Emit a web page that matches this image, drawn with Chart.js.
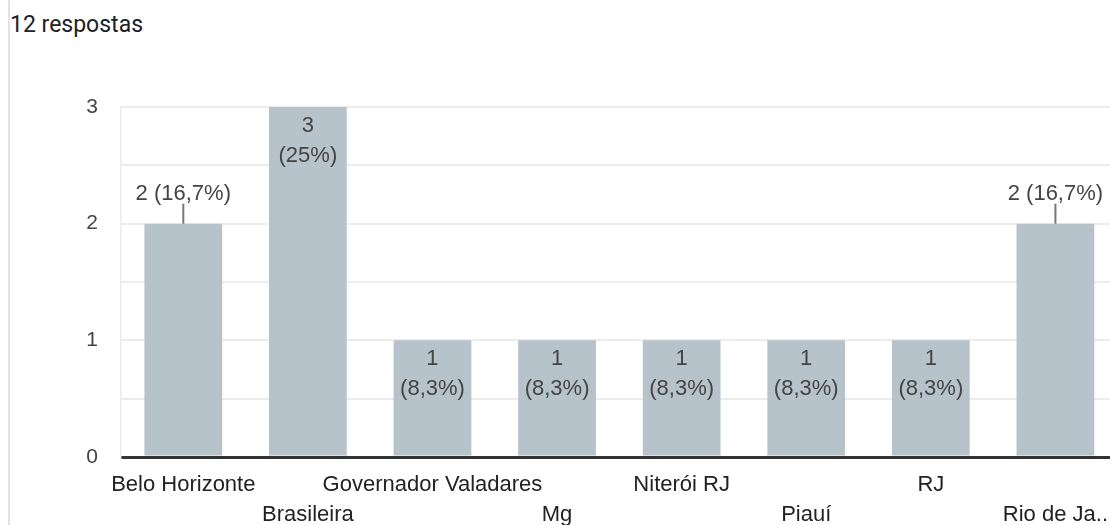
<!DOCTYPE html>
<html>
<head>
<meta charset="utf-8">
<script src="https://cdn.jsdelivr.net/npm/chart.js@4"></script>
<style>
  html, body { margin: 0; padding: 0; background: #fff; overflow: hidden; }
  #wrap { position: relative; width: 1110px; height: 525px; overflow: hidden; }
  #edge { position: absolute; left: 8px; top: 0; width: 2px; height: 525px; background: #e2e2e2; }
  #title { position: absolute; left: 10px; top: 11px; font: 23px Roboto, "Noto Sans", sans-serif; color: #202124; }
  #myChart { position: absolute; left: 0; top: 0; }
</style>
</head>
<body>
<div id="wrap">
  <div id="edge"></div>
  <div id="title">12 respostas</div>
  <canvas id="myChart" width="1121" height="525" style="width:1121px;height:525px"></canvas>
</div>
<script>
var labels = [
  "Belo Horizonte",
  "Brasileira",
  "Governador Valadares",
  "Mg",
  "Niterói RJ",
  "Piauí",
  "RJ",
  "Rio de Ja..",
];
var counts = [2, 3, 1, 1, 1, 1, 1, 2];
var yTicks = [0, 1, 2, 3];
var totalAnswers = 12;

// bars whose annotation sits above the bar with a small stem
var stemmed = [0, 7];

var BAR = "#b6c3cb";
var TEXT = "#444444";

function pctText(v) {
  var p = Math.round((v / totalAnswers) * 1000) / 10;
  return "(" + String(p).replace(".", ",") + "%)";
}

var annotations = {
  id: "annotations",
  afterDatasetsDraw: function (chart) {
    var ctx = chart.ctx;
    var meta = chart.getDatasetMeta(0);
    ctx.save();
    ctx.font = "22px 'Liberation Sans', Arial, sans-serif";
    ctx.textAlign = "center";
    ctx.textBaseline = "alphabetic";
    ctx.fillStyle = TEXT;
    meta.data.forEach(function (bar, i) {
      var v = counts[i];
      var x = bar.x;
      var top = bar.y;
      if (stemmed.indexOf(i) >= 0) {
        ctx.fillText(v + " " + pctText(v), x, top - 24);
        ctx.strokeStyle = "#777";
        ctx.lineWidth = 2;
        ctx.beginPath();
        ctx.moveTo(x, top - 20);
        ctx.lineTo(x, top);
        ctx.stroke();
      } else {
        ctx.fillText(String(v), x, top + 25);
        ctx.fillText(pctText(v), x, top + 55);
      }
    });
    ctx.restore();
  },
};

var ctx2 = document.getElementById("myChart");

var myChart = new Chart(ctx2, {
  type: "bar",
  data: {
    labels: labels,
    datasets: [
      {
        data: counts,
        backgroundColor: BAR,
        borderWidth: 0,
        barPercentage: 1,
        categoryPercentage: 0.624,
      },
    ],
  },
  options: {
    responsive: false,
    animation: false,
    devicePixelRatio: 1,
    layout: { padding: { left: 0, right: 0, top: 107, bottom: 0 } },
    plugins: {
      legend: { display: false },
      tooltip: { enabled: false },
    },
    scales: {
      x: {
        grid: { display: false, drawTicks: false },
        border: { display: true, color: "#333", width: 3 },
        afterFit: function (scale) {
          scale.height = 68;
        },
        ticks: {
          autoSkip: false,
          maxRotation: 0,
          minRotation: 0,
          padding: 13,
          color: "#222",
          font: { family: "'Liberation Sans', Arial, sans-serif", size: 22, lineHeight: "30px" },
          callback: function (value, index) {
            var name = this.getLabelForValue(value);
            return index % 2 === 0 ? [name, ""] : ["", name];
          },
        },
      },
      y: {
        min: 0,
        max: 3,
        afterFit: function (scale) {
          scale.width = 121;
        },
        afterBuildTicks: function (scale) {
          var t = [];
          for (var k = 0; k < yTicks.length; k++) {
            t.push({ value: yTicks[k] });
            if (k < yTicks.length - 1) t.push({ value: yTicks[k] + 0.5 });
          }
          scale.ticks = t;
        },
        border: { display: true, color: "#ececec", width: 1.5 },
        grid: {
          drawTicks: false,
          color: function (c) {
            return c.tick && c.tick.value === 0 ? "#333" : "#ececec";
          },
          lineWidth: function (c) {
            return c.tick && c.tick.value === 0 ? 3 : 2;
          },
        },
        ticks: {
          padding: 23,
          color: TEXT,
          font: { family: "'Liberation Sans', Arial, sans-serif", size: 21 },
          callback: function (value) {
            return yTicks.indexOf(value) >= 0 ? value : "";
          },
        },
      },
    },
  },
  plugins: [annotations],
});
</script>
</body>
</html>
